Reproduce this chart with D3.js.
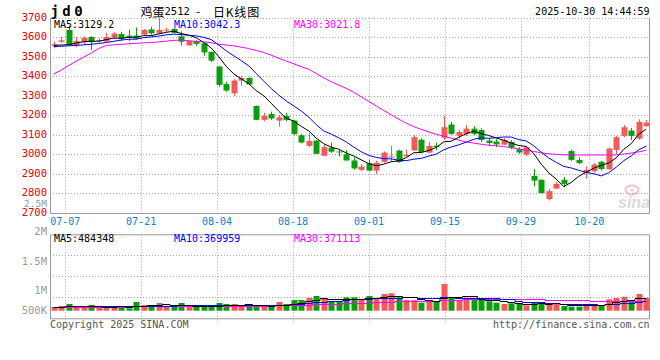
<!DOCTYPE html>
<html><head><meta charset="utf-8">
<script src="https://cdn.jsdelivr.net/npm/d3@7"></script>
<style>body{margin:0;background:#fff}svg{display:block}text{font-family:"DejaVu Sans Mono","Liberation Mono",monospace}</style>
</head><body><svg id="c" width="660" height="360"></svg>
<script>
const dates = ["07-03","07-04","07-07","07-08","07-09","07-10","07-11","07-14","07-15","07-16","07-17","07-18","07-21","07-22","07-23","07-24","07-25","07-28","07-29","07-30","07-31","08-01","08-04","08-05","08-06","08-07","08-08","08-11","08-12","08-13","08-14","08-15","08-18","08-19","08-20","08-21","08-22","08-25","08-26","08-27","08-28","08-29","09-01","09-02","09-03","09-04","09-05","09-08","09-09","09-10","09-11","09-12","09-15","09-16","09-17","09-18","09-19","09-22","09-23","09-24","09-25","09-26","09-29","09-30","10-09","10-10","10-13","10-14","10-15","10-16","10-17","10-20","10-21","10-22","10-23","10-24","10-27","10-28","10-29","10-30"];
const opens = [3557,3577,3637,3560,3574,3602,3582,3578,3600,3617, 3608,3608,3614,3640,3620,3636,3643,3605,3558,3580, 3569,3525,3450,3360,3313,3378,3392,3248,3177,3207, 3173,3197,3173,3098,3044,3071,2993,3034,3015,3000, 2969,2921,2955,2917,2962,2987,3020,2990,3020,3075, 3009,3045,3085,3153,3095,3105,3132,3125,3071,3066, 3050,3064,3027,2999,2890,2870,2771,2825,2870,3017, 2972,2904,2914,2962,2924,3023,3095,3122,3081,3146];
const highs = [3577,3601,3660,3600,3604,3605,3595,3623,3626,3628, 3640,3650,3642,3654,3697,3649,3646,3630,3582,3584, 3572,3527,3452,3373,3385,3402,3394,3250,3214,3219, 3202,3213,3175,3105,3109,3073,3052,3060,3026,3022, 2985,2950,2972,2968,3015,3044,3024,3024,3098,3083, 3064,3060,3197,3166,3125,3150,3145,3133,3085,3078, 3083,3073,3037,3042,2925,2872,2825,2860,2884,3025, 2985,2938,2955,2966,3036,3095,3150,3135,3180,3176];
const lows = [3543,3571,3558,3549,3562,3535,3572,3573,3594,3580, 3581,3588,3608,3612,3614,3626,3620,3557,3556,3556, 3505,3473,3347,3320,3300,3351,3356,3175,3170,3177, 3142,3170,3098,3056,3037,3002,2993,3008,2990,2968, 2922,2915,2914,2900,2957,2962,2957,2986,3020,3010, 3006,3023,3074,3100,3081,3095,3098,3064,3044,3037, 3048,3027,3003,2992,2836,2800,2764,2823,2832,2966, 2950,2876,2908,2918,2920,3002,3088,3074,3075,3140];
const closes = [3564,3584,3560,3581,3597,3575,3585,3601,3619,3593, 3599,3592,3637,3620,3637,3639,3622,3577,3580,3566, 3522,3480,3356,3327,3378,3392,3358,3177,3197,3184, 3190,3177,3105,3061,3069,3003,3037,3014,3012,2969, 2928,2938,2917,2958,3009,2990,2961,2997,3088,3012, 3044,3038,3139,3105,3115,3132,3105,3074,3058,3051, 3074,3034,3010,3037,2866,2802,2812,2849,2849,2972, 2956,2921,2948,2925,3030,3088,3139,3095,3166,3163];
// volume, thousands of lots
const volumes = [139,176,251,139,139,213,139,139,139,176, 90,326,213,213,288,176,139,288,139,139, 213,139,288,251,251,213,213,213,139,139, 326,251,401,401,476,551,476,326,352,502, 502,427,551,476,625,652,502,401,401,300, 401,352,1000,502,401,476,427,427,352,300, 251,277,251,202,326,326,225,277,176,150, 150,251,251,176,427,476,524,326,625,476];
const ma5 = [3558,3560,3562,3570,3577.2,3579.4,3579.6,3587.8,3595.4,3594.6, 3599.4,3600.8,3608,3608.2,3617,3625,3631,3619,3611,3596.8, 3573.4,3545,3500.8,3450.2,3412.6,3386.6,3362.2,3326.4,3300.4,3261.6, 3221.2,3185,3170.6,3143.4,3120.4,3083,3055,3036.8,3027,3007, 2992,2972.2,2952.8,2942,2950,2962.4,2967,2983,3009,3009.6, 3020.4,3035.8,3064.2,3067.6,3088.2,3105.8,3119.2,3106.2,3096.8,3084, 3072.4,3058.2,3045.4,3041.2,3004.2,2949.8,2905.4,2873.2,2835.6,2856.8, 2887.6,2909.4,2929.2,2944.4,2956,2982.4,3026,3055.4,3103.6,3129.2];
const ma10 = [3552,3554,3556,3558,3561,3564,3568,3573,3579,3585.9, 3589.4,3590.2,3597.9,3601.8,3605.8,3612.2,3615.9,3613.5,3609.6,3606.9, 3599.2,3588,3559.9,3530.6,3504.7,3480,3453.6,3413.6,3375.3,3337.1, 3303.9,3273.6,3248.5,3221.9,3191,3152.1,3120,3103.7,3085.2,3063.7, 3037.5,3013.6,2994.8,2984.5,2978.5,2977.2,2969.6,2967.9,2975.5,2979.8, 2991.4,3001.4,3023.6,3038.3,3048.9,3063.1,3077.5,3085.2,3082.2,3086.1, 3089.1,3088.7,3075.8,3069,3044.1,3011.1,2981.8,2959.3,2938.4,2930.5, 2918.7,2907.4,2901.2,2890,2906.4,2935,2967.7,2992.3,3024,3042.3];
const ma30 = [3412,3432,3455,3478,3498,3520,3542,3558,3561,3564, 3566,3569,3571,3573,3576,3580,3584,3585,3582,3579, 3576,3572,3564,3560,3556,3549,3542,3532,3522,3508, 3492,3478,3464,3449,3436,3414,3392,3372,3355,3338, 3318,3295,3271,3248,3225,3203,3180,3160,3142,3128, 3115,3103,3093,3083,3073,3063,3058,3052,3047,3044, 3040,3034,3028,3022,3015,3008,3003,3000,2998,2997, 2997,2997,2997,2997,2997,2998,3002,3007,3013,3021.8];
const vma5 = [148,153,173,171,169,184,176,154,154,161, 137,174,189,204,226,243,206,221,206,176, 184,184,184,206,228,228,243,228,206,183, 206,214,251,304,371,416,461,446,436,441, 432,422,467,492,516,546,561,531,516,451, 401,371,491,511,531,546,561,447,417,396, 351,321,286,256,261,276,266,271,266,231, 196,201,196,196,251,316,371,386,476,484.348];
const vma10 = [149,152,162,161,159,166,165,164,162,165, 160,175,171,179,194,190,190,205,205,201, 213,195,202,206,202,206,213,206,206,206, 217,228,240,255,277,311,337,349,370,406, 424,441,456,464,479,489,492,499,504,484, 474,466,511,514,491,474,466,469,464,464, 449,441,366,336,329,314,294,279,261,246, 236,233,233,231,241,256,286,291,336,369.959];
const vma30 = [150,151,154,154,153,155,155,155,154,155, 153,159,161,163,168,169,168,173,172,172, 174,174,178,182,185,187,189,191,191,191, 197,199,204,213,224,236,247,253,260,271, 285,288,299,308,319,335,347,351,360,365, 372,379,402,411,416,424,432,439,446,451, 449,450,445,438,433,425,417,415,410,398, 390,385,378,370,366,362,362,361,366,371.113];
const priceTicks = [3700,3600,3500,3400,3300,3200,3100,3000,2900,2800,2700];
const volTicks = ["2M","1.5M","1M","500K"];
const dateTicks = ["07-07","07-21","08-04","08-18","09-01","09-15","09-29","10-20"];
const maNames = ["MA5","MA10","MA30"];
const priceMAText = ["3129.2","3042.3","3021.8"];
const volMAText = ["484348","369959","371113"];
const maColors = ["#000000","#0000ff","#ff00ff"];

const svg = d3.select("#c");
const L = 50, R = 650, T1 = 17.7, B1 = 213, T2 = 234.3, B2 = 318.3;
const n = dates.length;
const x = d3.scaleBand().domain(d3.range(n)).range([L, R]);
const cx = i => x(i) + x.bandwidth() / 2;
const xg = d3.scaleLinear().domain([0, n - 1]).range([L, R]);
const y = d3.scaleLinear().domain([2700, 3700]).range([B1, T1]);
const yv = d3.scaleLinear().domain([0, 3000]).range([310.7, 230.6]);
const volLabelY = d3.scaleOrdinal().domain(volTicks).range([231, 261, 290, 310]);
const up = "#f25a5a", down = "#0a9f0a";
const gridC = "#a8a8a8", axisC = "#999";

svg.append("rect").attr("width", 660).attr("height", 360).attr("fill", "#fff");

// watermark
const wm = svg.append("g");
wm.append("ellipse").attr("cx", 632).attr("cy", 190).attr("rx", 6.5).attr("ry", 4.5)
  .attr("fill", "none").attr("stroke", "#f3c4c4").attr("stroke-width", 2);
wm.append("circle").attr("cx", 632).attr("cy", 190).attr("r", 1.6).attr("fill", "#f3c4c4");
wm.append("text").attr("x", 618).attr("y", 208).text("sina")
  .attr("font-style", "italic").attr("font-weight", "bold")
  .attr("font-size", 16).attr("fill", "#dadada").style("font-family", "Liberation Sans, Arial");

// horizontal grid main
svg.append("g").selectAll("line").data(priceTicks.slice(0, -1)).join("line")
  .attr("x1", L).attr("x2", R).attr("y1", d => Math.round(y(d)) + 0.5).attr("y2", d => Math.round(y(d)) + 0.5)
  .attr("stroke", gridC).attr("stroke-dasharray", "1,2");
// volume grid: quarters of the panel
const vq = d3.scaleLinear().domain([0, 4]).range([T2, B2]);
svg.append("g").selectAll("line").data([1, 2, 3]).join("line")
  .attr("x1", L).attr("x2", R).attr("y1", d => Math.round(vq(d)) + 0.5).attr("y2", d => Math.round(vq(d)) + 0.5)
  .attr("stroke", gridC).attr("stroke-dasharray", "1,2");
// vertical grid
const dIdx = dateTicks.map(d => dates.indexOf(d));
svg.append("g").selectAll("line").data(dIdx).join("line")
  .attr("x1", i => Math.round(xg(i)) + 0.5).attr("x2", i => Math.round(xg(i)) + 0.5)
  .attr("y1", T1).attr("y2", B1).attr("stroke", gridC).attr("stroke-dasharray", "1,2");
svg.append("g").selectAll("line").data(dIdx).join("line")
  .attr("x1", i => Math.round(xg(i)) + 0.5).attr("x2", i => Math.round(xg(i)) + 0.5)
  .attr("y1", T2).attr("y2", B2 + 4).attr("stroke", gridC).attr("stroke-dasharray", "1,2");

// axes / borders
const ax = svg.append("g").attr("stroke", axisC).attr("fill", "none");
ax.append("path").attr("d", `M${L + 0.5},${T1}V${B1 + 0.5}H${R - 0.5}V${T1}`);
ax.append("path").attr("d", `M${L + 0.5},${T2 + 0.5}H${R - 0.5}V${B2 + 0.5}H${L + 0.5}Z`);

// candles
const cg = svg.append("g");
d3.range(n).forEach(i => {
  const col = closes[i] >= opens[i] ? up : down;
  const xc = Math.round(cx(i)) + 0.5;
  cg.append("line").attr("x1", xc).attr("x2", xc).attr("y1", y(highs[i])).attr("y2", y(lows[i]))
    .attr("stroke", col);
  const top = y(Math.max(opens[i], closes[i])), bot = y(Math.min(opens[i], closes[i]));
  cg.append("rect").attr("x", Math.round(cx(i)) - 2.5).attr("width", 6).attr("y", top)
    .attr("height", Math.max(1, bot - top)).attr("fill", col);
});

// price MAs
const line = arr => d3.line().x((d, i) => cx(i)).y(d => y(d))(arr);
[ma30, ma10, ma5].forEach((arr, k) => {
  svg.append("path").attr("d", line(arr)).attr("fill", "none")
    .attr("stroke", maColors[2 - k]).attr("stroke-width", 1);
});

// volume bars
const vg = svg.append("g");
d3.range(n).forEach(i => {
  const col = closes[i] >= opens[i] ? up : down;
  vg.append("rect").attr("x", Math.round(cx(i)) - 2.5).attr("width", 6)
    .attr("y", yv(volumes[i])).attr("height", yv(0) - yv(volumes[i])).attr("fill", col);
});
const vline = arr => d3.line().curve(d3.curveStep).x((d, i) => cx(i)).y(d => Math.round(yv(d)) + 0.5)(arr);
[vma30, vma10, vma5].forEach((arr, k) => {
  svg.append("path").attr("d", vline(arr)).attr("fill", "none")
    .attr("stroke", maColors[2 - k]).attr("stroke-width", 1);
});

// price labels
svg.append("g").selectAll("text").data(priceTicks).join("text")
  .attr("x", 47).attr("y", d => y(d) - 1).attr("text-anchor", "end").attr("dominant-baseline", "central")
  .attr("font-size", 10.5).attr("fill", "#e60000").text(d => d);
// vol labels
svg.append("text").attr("x", 47).attr("y", 203).attr("text-anchor", "end").attr("dominant-baseline", "central")
  .attr("font-size", 9.5).attr("fill", "#999").text("2.5M");
svg.append("g").selectAll("text").data(volTicks).join("text")
  .attr("x", 47).attr("y", d => volLabelY(d)).attr("text-anchor", "end").attr("dominant-baseline", "central")
  .attr("font-size", 10.5).attr("fill", "#999").text(d => d);
// date labels
svg.append("g").selectAll("text").data(dIdx).join("text")
  .attr("x", i => xg(i)).attr("y", 221.5).attr("text-anchor", "middle").attr("dominant-baseline", "central")
  .attr("font-size", 10).attr("fill", "#0a82d8").text(i => dates[i]);

// MA headers
const hx = d3.scaleLinear().domain([0, 1]).range([54, 174]);
maNames.forEach((m, k) => {
  svg.append("text").attr("x", hx(k)).attr("y", 24).attr("dominant-baseline", "central")
    .attr("font-size", 10).attr("fill", maColors[k]).text(m + ":" + priceMAText[k]);
  svg.append("text").attr("x", hx(k)).attr("y", 238.5).attr("dominant-baseline", "central")
    .attr("font-size", 10).attr("fill", maColors[k]).text(m + ":" + volMAText[k]);
});

// title
svg.append("text").attr("x", 50.5).attr("y", 11).attr("dominant-baseline", "central")
  .attr("font-size", 14).attr("font-weight", "bold").attr("letter-spacing", 3.4).attr("fill", "#000").text("jd0");
const tt = svg.append("text").attr("y", 11).attr("dominant-baseline", "central").attr("fill", "#000");
tt.append("tspan").attr("x", 140.5).style("font-family", "Noto Sans CJK SC").attr("font-size", 12).text("鸡蛋");
tt.append("tspan").attr("x", 164.5).attr("font-size", 10.5).text("2512");
tt.append("tspan").attr("x", 195).attr("font-size", 10.5).text("-");
tt.append("tspan").attr("x", 213).style("font-family", "Noto Sans CJK SC").attr("font-size", 12)
  .attr("letter-spacing", 0.8).text("日K线图");
svg.append("text").attr("x", 649.5).attr("y", 11.5).attr("text-anchor", "end").attr("dominant-baseline", "central")
  .attr("font-size", 10).attr("fill", "#000").text("2025-10-30 14:44:59");

// footer
svg.append("text").attr("x", 50).attr("y", 324).attr("dominant-baseline", "central")
  .attr("font-size", 10).attr("fill", "#555").text("Copyright 2025 SINA.COM");
svg.append("text").attr("x", 649.5).attr("y", 324).attr("text-anchor", "end").attr("dominant-baseline", "central")
  .attr("font-size", 10).attr("fill", "#555").text("http://finance.sina.com.cn");
</script></body></html>
